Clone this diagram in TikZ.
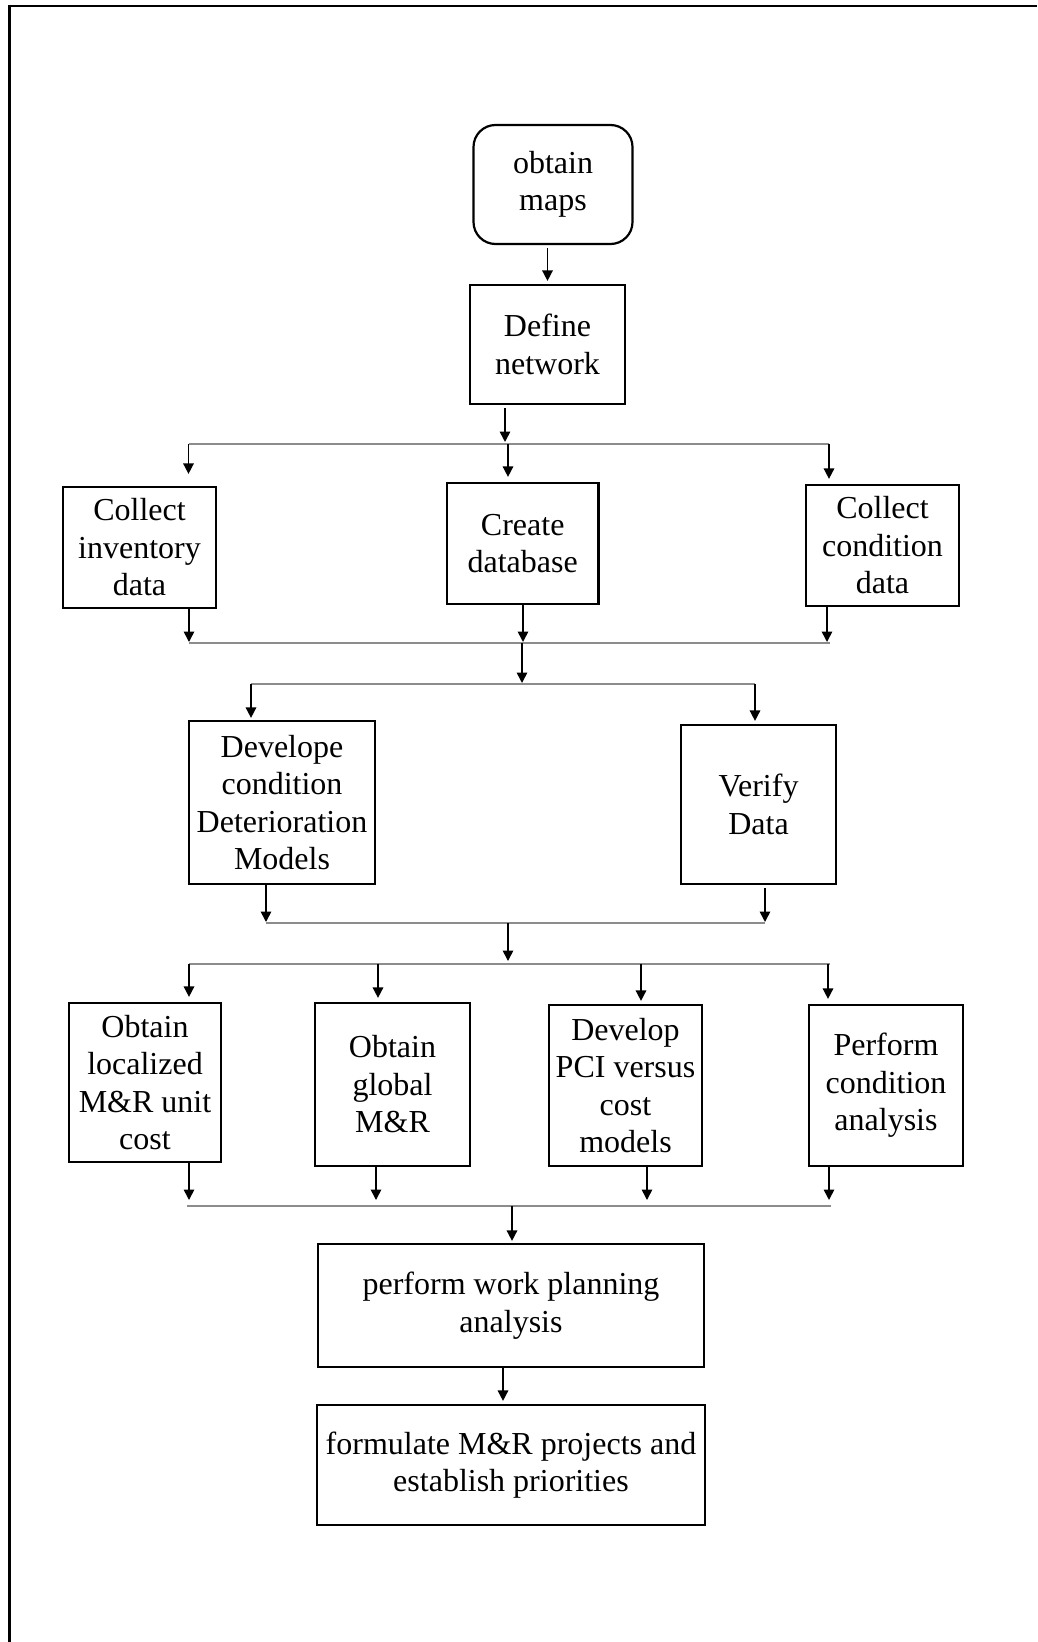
\documentclass[tikz,border=0pt]{standalone}
\usepackage{fontspec}
\setmainfont{Liberation Serif}
\usetikzlibrary{arrows.meta}
\begin{document}
\begin{tikzpicture}[x=1bp,y=-1bp,
  box/.style={draw, line width=2.2bp, align=center, inner sep=1bp,
    font=\fontsize{32bp}{37.5bp}\selectfont},
  arr/.style={line width=1.6bp, -{Triangle[length=10.5bp,width=10.5bp]}},
  bus/.style={line width=1.4bp, draw=black!45}]
\useasboundingbox (0,0) rectangle (1037,1642);
% frame
\draw[line width=2.5bp] (9.3,1642) -- (9.3,6) -- (1037,6);
% nodes
\node[box, rounded corners=22bp, minimum width=159bp, minimum height=119bp] (maps) at (553,184.5) {obtain\\maps};
\node[box, minimum width=155bp, minimum height=119bp] (define) at (547.5,344.5) {Define\\network};
\node[box, minimum width=153bp, minimum height=121bp] (inv) at (139.5,547.5) {Collect\\inventory\\data};
\node[box, minimum width=151.5bp, minimum height=121bp] (db) at (522.7,543.5) {Create\\database};
\node[box, minimum width=153bp, minimum height=121bp] (cond) at (882.5,545.5) {Collect\\condition\\data};
\node[box, minimum width=186bp, minimum height=163bp] (dev) at (282,802.5) {Develope\\condition\\Deterioration\\Models};
\node[box, minimum width=155bp, minimum height=159bp] (ver) at (758.5,804.5) {Verify\\Data};
\node[box, minimum width=152bp, minimum height=159bp] (loc) at (145,1082.5) {Obtain\\localized\\M\&R unit\\cost};
\node[box, minimum width=155bp, minimum height=163bp] (glob) at (392.5,1084.5) {Obtain\\global\\M\&R};
\node[box, minimum width=153bp, minimum height=161bp] (pci) at (625.5,1085.5) {Develop\\PCI versus\\cost\\models};
\node[box, minimum width=153.5bp, minimum height=161bp] (perf) at (886,1085.5) {Perform\\condition\\analysis};
\node[box, minimum width=386.5bp, minimum height=123bp] (plan) at (511,1305.5) {perform work planning\\analysis};
\node[box, minimum width=387.5bp, minimum height=120bp] (form) at (511,1465) {formulate M\&R projects and\\establish priorities};
% bus coordinates
\coordinate (b1in) at (505,444); \coordinate (b1out) at (508,444);
\coordinate (b1L) at (188.5,444); \coordinate (b1R) at (829,444);
\coordinate (b2L) at (189,643); \coordinate (b2R) at (830,643);
\coordinate (b2db) at (523,643); \coordinate (b2c) at (827,643);
\coordinate (b2out) at (522,643);
\coordinate (b3L) at (251,684); \coordinate (b3R) at (755,684); \coordinate (b3in) at (522,684);
\coordinate (b4L) at (266,923); \coordinate (b4R) at (765,923); \coordinate (b4out) at (508,923);
\coordinate (b5L) at (189,964); \coordinate (b5R) at (830,964); \coordinate (b5in) at (508,964);
\coordinate (b5a) at (378,964); \coordinate (b5b) at (641,964); \coordinate (b5c) at (828,964);
\coordinate (b6L) at (187,1206); \coordinate (b6R) at (831,1206);
\coordinate (b6a) at (189,1206); \coordinate (b6b) at (376,1206);
\coordinate (b6c) at (647,1206); \coordinate (b6d) at (829,1206);
\coordinate (b6out) at (512,1206);
\coordinate (pf) at (503,1385);
% bus lines
\draw[bus] (b1L) -- (b1R);
\draw[bus] (b2L) -- (b2R);
\draw[bus] (b3L) -- (b3R);
\draw[bus] (b4L) -- (b4R);
\draw[bus] (b5L) -- (b5R);
\draw[bus] (b6L) -- (b6R);
% arrows
\draw[arr, shorten <=3bp, shorten >=3bp] (define.north |- maps.south) -- (define.north);
\draw[arr, shorten <=3bp, shorten >=2bp] (b1in |- define.south) -- (b1in);
\draw[arr, shorten >=12bp] (b1L) -- (b1L |- inv.north);
\draw[arr, shorten >=5bp] (b1out) -- (b1out |- db.north);
\draw[arr, shorten >=5bp] (b1R) -- (b1R |- cond.north);
\draw[arr, shorten >=1bp] (b2L |- inv.south) -- (b2L);
\draw[arr, shorten >=1bp] (b2db |- db.south) -- (b2db);
\draw[arr, shorten >=1bp] (b2c |- cond.south) -- (b2c);
\draw[arr, shorten >=1bp] (b2out) -- (b3in);
\draw[arr, shorten >=2bp] (b3L) -- (b3L |- dev.north);
\draw[arr, shorten >=3bp] (b3R) -- (b3R |- ver.north);
\draw[arr, shorten >=1bp] (b4L |- dev.south) -- (b4L);
\draw[arr, shorten <=3bp, shorten >=1bp] (b4R |- ver.south) -- (b4R);
\draw[arr, shorten >=3bp] (b4out) -- (b5in);
\draw[arr, shorten >=5bp] (b5L) -- (b5L |- loc.north);
\draw[arr, shorten >=4bp] (b5a) -- (b5a |- glob.north);
\draw[arr, shorten >=3bp] (b5b) -- (b5b |- pci.north);
\draw[arr, shorten >=5bp] (b5c) -- (b5c |- perf.north);
\draw[arr, shorten >=6bp] (b6a |- loc.south) -- (b6a);
\draw[arr, shorten >=6bp] (b6b |- glob.south) -- (b6b);
\draw[arr, shorten >=6bp] (b6c |- pci.south) -- (b6c);
\draw[arr, shorten >=6bp] (b6d |- perf.south) -- (b6d);
\draw[arr, shorten >=2bp] (b6out) -- (b6out |- plan.north);
\draw[arr, shorten >=3bp] (pf |- plan.south) -- (pf |- form.north);
\end{tikzpicture}
\end{document}
